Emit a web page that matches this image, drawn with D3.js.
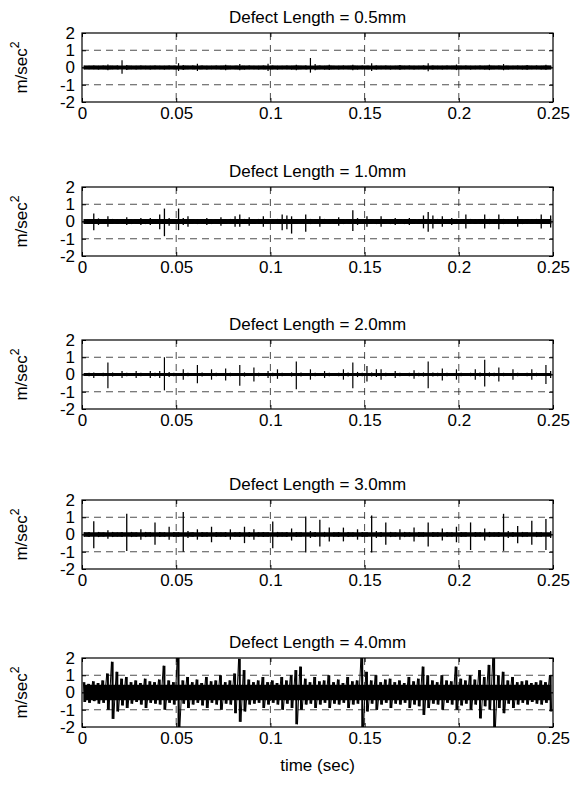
<!DOCTYPE html>
<html><head><meta charset="utf-8">
<script src="https://cdn.jsdelivr.net/npm/d3@7/dist/d3.min.js"></script>
<style>
body{margin:0;background:#fff}
svg{display:block}
text{font-family:Arial,"Liberation Sans",Helvetica,sans-serif;fill:#000}
</style>
</head><body>
<svg id="chart" width="588" height="798"></svg>
<script>
// ---------- data ----------
const titles = ["Defect Length = 0.5mm","Defect Length = 1.0mm","Defect Length = 2.0mm","Defect Length = 3.0mm","Defect Length = 4.0mm"];
const xTicks = [0,0.05,0.1,0.15,0.2,0.25];
const xTickLabels = ["0","0.05","0.1","0.15","0.2","0.25"];
const yTicks = [-2,-1,0,1,2];
const yTickLabels = ["-2","-1","0","1","2"];
const xLabel = "time (sec)";
const yLabel = "m/sec";
const binWidth = 0.0025; // seconds per envelope bin

// per-bin upper / lower envelope of each acceleration signal (m/sec^2)
const hi05 = [0.1,0.1,0.12,0.1,0.12,0.18,0.1,0.12,0.42,0.15, 0.1,0.1,0.12,0.1,0.1,0.12,0.1,0.1,0.12,0.1,
 0.25,0.15,0.1,0.12,0.22,0.12,0.1,0.1,0.12,0.1, 0.16,0.1,0.1,0.2,0.1,0.12,0.1,0.1,0.12,0.22,
 0.12,0.1,0.1,0.12,0.1,0.16,0.1,0.12,0.55,0.2, 0.12,0.1,0.16,0.1,0.1,0.12,0.1,0.16,0.1,0.12,
 0.1,0.25,0.12,0.1,0.12,0.1,0.1,0.14,0.1,0.12, 0.1,0.1,0.12,0.25,0.12,0.1,0.1,0.12,0.1,0.17,
 0.1,0.12,0.1,0.1,0.12,0.1,0.16,0.1,0.12,0.2, 0.1,0.1,0.12,0.1,0.14,0.1,0.12,0.1,0.16,0.1];
const lo05 = [-0.1,-0.1,-0.1,-0.12,-0.1,-0.16,-0.1,-0.1,-0.36,-0.14, -0.1,-0.12,-0.1,-0.1,-0.12,-0.1,-0.1,-0.12,-0.1,-0.1,
 -0.2,-0.14,-0.1,-0.1,-0.2,-0.1,-0.12,-0.1,-0.1,-0.12, -0.16,-0.1,-0.1,-0.16,-0.12,-0.1,-0.1,-0.12,-0.1,-0.2,
 -0.1,-0.12,-0.1,-0.1,-0.12,-0.16,-0.1,-0.1,-0.3,-0.16, -0.1,-0.12,-0.15,-0.1,-0.12,-0.1,-0.1,-0.16,-0.12,-0.1,
 -0.1,-0.2,-0.12,-0.1,-0.1,-0.12,-0.1,-0.13,-0.1,-0.1, -0.12,-0.1,-0.1,-0.22,-0.12,-0.1,-0.12,-0.1,-0.1,-0.15,
 -0.1,-0.1,-0.12,-0.1,-0.1,-0.12,-0.15,-0.1,-0.1,-0.16, -0.12,-0.1,-0.1,-0.12,-0.13,-0.1,-0.1,-0.12,-0.13,-0.1];

const hi10 = [0.13,0.15,0.46,0.18,0.13,0.3,0.15,0.13,0.15,0.25, 0.13,0.15,0.2,0.13,0.2,0.15,0.4,0.75,0.2,0.15,
 0.75,0.2,0.3,0.15,0.13,0.15,0.2,0.13,0.15,0.25, 0.13,0.15,0.3,0.4,0.15,0.25,0.13,0.15,0.3,0.15,
 0.13,0.15,0.4,0.35,0.3,0.15,0.13,0.4,0.15,0.13, 0.3,0.15,0.13,0.15,0.25,0.13,0.15,0.65,0.2,0.13,
 0.3,0.15,0.13,0.3,0.15,0.13,0.2,0.15,0.13,0.2, 0.15,0.13,0.35,0.55,0.35,0.15,0.3,0.13,0.2,0.15,
 0.13,0.4,0.15,0.13,0.15,0.4,0.15,0.13,0.4,0.15, 0.13,0.15,0.3,0.13,0.15,0.13,0.15,0.4,0.15,0.35];
const lo10 = [-0.13,-0.15,-0.5,-0.2,-0.13,-0.3,-0.13,-0.15,-0.13,-0.2, -0.15,-0.13,-0.2,-0.15,-0.2,-0.13,-0.45,-0.85,-0.25,-0.15,
 -0.5,-0.2,-0.3,-0.13,-0.15,-0.13,-0.2,-0.15,-0.13,-0.25, -0.15,-0.13,-0.3,-0.3,-0.13,-0.25,-0.15,-0.13,-0.3,-0.13,
 -0.15,-0.13,-0.5,-0.45,-0.7,-0.15,-0.13,-0.6,-0.15,-0.13, -0.3,-0.13,-0.15,-0.13,-0.25,-0.15,-0.13,-0.55,-0.2,-0.15,
 -0.3,-0.13,-0.15,-0.3,-0.13,-0.15,-0.2,-0.13,-0.15,-0.2, -0.13,-0.15,-0.4,-0.6,-0.4,-0.13,-0.3,-0.15,-0.2,-0.13,
 -0.15,-0.4,-0.13,-0.15,-0.13,-0.4,-0.15,-0.13,-0.45,-0.15, -0.13,-0.15,-0.3,-0.15,-0.13,-0.15,-0.13,-0.4,-0.15,-0.35];

const hi20 = [0.08,0.1,0.12,0.08,0.1,0.7,0.12,0.08,0.2,0.1, 0.08,0.2,0.1,0.08,0.2,0.1,0.2,1.0,0.15,0.1,
 0.08,0.3,0.1,0.08,0.55,0.12,0.08,0.3,0.1,0.08, 0.35,0.1,0.08,0.55,0.12,0.08,0.4,0.1,0.08,0.2,
 0.1,0.3,0.1,0.08,0.12,0.75,0.12,0.08,0.3,0.1, 0.08,0.2,0.1,0.08,0.1,0.3,0.12,0.7,0.15,0.1,
 0.5,0.12,0.3,0.3,0.1,0.08,0.2,0.1,0.08,0.1, 0.25,0.1,0.12,0.75,0.12,0.1,0.35,0.1,0.08,0.3,
 0.1,0.08,0.1,0.3,0.12,0.85,0.12,0.1,0.4,0.1, 0.08,0.3,0.1,0.08,0.1,0.3,0.1,0.08,0.55,0.2];
const lo20 = [-0.08,-0.1,-0.2,-0.08,-0.1,-0.8,-0.12,-0.08,-0.2,-0.1, -0.08,-0.2,-0.1,-0.08,-0.2,-0.1,-0.2,-0.92,-0.15,-0.1,
 -0.08,-0.3,-0.1,-0.08,-0.5,-0.12,-0.08,-0.3,-0.1,-0.08, -0.35,-0.1,-0.08,-0.65,-0.12,-0.08,-0.4,-0.1,-0.08,-0.2,
 -0.1,-0.25,-0.1,-0.08,-0.12,-0.85,-0.12,-0.08,-0.3,-0.1, -0.08,-0.2,-0.1,-0.08,-0.1,-0.3,-0.12,-0.8,-0.15,-0.1,
 -0.4,-0.12,-0.15,-0.3,-0.1,-0.08,-0.2,-0.1,-0.08,-0.1, -0.25,-0.1,-0.12,-0.8,-0.12,-0.1,-0.35,-0.1,-0.08,-0.3,
 -0.1,-0.08,-0.1,-0.3,-0.12,-0.7,-0.12,-0.1,-0.4,-0.1, -0.08,-0.3,-0.1,-0.08,-0.1,-0.3,-0.1,-0.08,-0.55,-0.2];

const hi30 = [0.12,0.15,0.77,0.15,0.12,0.25,0.15,0.12,0.15,1.2, 0.15,0.12,0.3,0.15,0.12,0.7,0.15,0.12,0.45,0.15,
 0.12,1.3,0.2,0.12,0.3,0.15,0.12,0.45,0.15,0.12, 0.15,0.3,0.12,0.15,0.45,0.15,0.3,0.12,0.15,0.12,
 0.75,0.15,0.12,0.15,0.35,0.15,0.12,1.05,0.2,0.15, 0.85,0.15,0.4,0.12,0.15,0.4,0.15,0.12,0.3,0.15,
 0.12,1.1,0.2,0.15,0.7,0.15,0.12,0.3,0.15,0.12, 0.4,0.15,0.12,0.7,0.15,0.12,0.35,0.15,0.12,0.45,
 0.15,0.12,0.7,0.15,0.12,0.35,0.15,0.12,0.15,1.2, 0.2,0.15,0.5,0.15,0.12,0.8,0.15,0.12,0.9,0.2];
const lo30 = [-0.12,-0.15,-0.8,-0.15,-0.12,-0.25,-0.15,-0.12,-0.15,-0.95, -0.15,-0.12,-0.3,-0.15,-0.12,-0.6,-0.15,-0.12,-0.3,-0.15,
 -0.12,-1.0,-0.2,-0.12,-0.3,-0.15,-0.12,-0.45,-0.15,-0.12, -0.15,-0.3,-0.12,-0.15,-0.5,-0.15,-0.3,-0.12,-0.15,-0.12,
 -0.8,-0.15,-0.12,-0.15,-0.35,-0.15,-0.12,-1.05,-0.2,-0.15, -0.7,-0.15,-0.4,-0.12,-0.15,-0.4,-0.15,-0.12,-0.3,-0.15,
 -0.12,-1.05,-0.2,-0.15,-0.6,-0.15,-0.12,-0.3,-0.15,-0.12, -0.4,-0.15,-0.12,-0.7,-0.15,-0.12,-0.35,-0.15,-0.12,-0.45,
 -0.15,-0.12,-0.9,-0.15,-0.12,-0.35,-0.15,-0.12,-0.15,-0.95, -0.2,-0.15,-0.5,-0.15,-0.12,-0.6,-0.15,-0.12,-0.9,-0.2];

const hi40 = [0.6,0.5,0.65,0.55,0.7,1.1,1.78,1.2,0.8,0.9, 0.6,0.7,0.55,0.8,0.65,0.6,0.75,1.55,0.7,0.6,
 2.2,0.7,0.9,0.6,0.75,0.55,0.9,0.65,0.7,1.0, 0.6,0.7,1.1,1.95,1.3,0.75,0.6,0.7,0.9,0.6,
 0.7,0.55,0.9,0.7,1.0,1.3,1.5,0.8,0.6,0.9, 0.65,0.7,1.0,0.6,0.75,0.55,0.9,0.65,0.7,2.2,
 1.2,0.7,1.0,0.6,0.75,0.8,0.6,0.7,0.55,0.9, 0.65,0.8,1.5,1.0,0.7,0.6,1.0,0.7,0.65,1.5,
 0.8,0.7,1.0,0.75,1.3,0.9,1.6,2.2,1.0,1.2, 0.7,0.9,0.6,0.65,0.7,0.55,0.6,0.7,0.6,1.0];
const lo40 = [-0.55,-0.6,-0.5,-0.65,-0.6,-1.0,-1.53,-1.1,-0.75,-0.9, -0.65,-0.55,-0.7,-0.9,-0.6,-0.65,-0.7,-1.0,-0.6,-0.7,
 -2.2,-0.65,-0.9,-0.7,-0.6,-0.75,-0.9,-0.6,-0.7,-1.0, -0.65,-0.7,-1.2,-1.7,-1.1,-0.7,-0.65,-0.6,-0.9,-0.7,
 -0.6,-0.7,-1.0,-0.65,-0.9,-1.84,-1.0,-0.7,-0.65,-0.9, -0.7,-0.6,-0.9,-0.65,-0.7,-0.6,-0.9,-0.7,-0.65,-2.2,
 -1.1,-0.65,-1.0,-0.7,-0.6,-0.9,-0.65,-0.7,-0.6,-0.9, -0.7,-0.8,-1.3,-0.9,-0.65,-0.7,-1.0,-0.6,-0.7,-1.0,
 -0.75,-0.65,-1.0,-0.7,-1.5,-0.8,-1.0,-2.2,-0.9,-1.2, -0.65,-0.9,-0.7,-0.6,-0.7,-0.55,-0.65,-0.7,-0.6,-1.1];

const seriesHi = [hi05, hi10, hi20, hi30, hi40];
const seriesLo = [lo05, lo10, lo20, lo30, lo40];

// ---------- layout / style ----------
const plotLeft = 82, plotRight = 553, plotH = 69;
const panelTops = [33, 187, 340, 500, 658];
const bandClip = [0.11, 0.14, 0.09, 0.13, 0.45];  // limit of the filled dense core (style)
const areaStroke = [1.4, 1.4, 1.2, 1.3, 1.0];
const segWidth = [1.2, 1.3, 1.2, 1.3, 2.0];
const zigWidth = [0, 0, 0, 0, 1.0];
const fs = 17;

const svg = d3.select("#chart");
const x = d3.scaleLinear().domain([0, 0.25]).range([plotLeft, plotRight]);

panelTops.forEach((top, p) => {
  const y = d3.scaleLinear().domain([-2, 2]).range([top + plotH, top]);
  const g = svg.append("g");
  const defs = svg.append("defs");
  defs.append("clipPath").attr("id", "clip" + p).append("rect")
    .attr("x", plotLeft).attr("y", top).attr("width", plotRight - plotLeft).attr("height", plotH);
  defs.append("clipPath").attr("id", "band" + p).append("rect")
    .attr("x", plotLeft).attr("y", y(bandClip[p])).attr("width", plotRight - plotLeft)
    .attr("height", y(-bandClip[p]) - y(bandClip[p]));

  // grid
  const grid = g.append("g").attr("stroke", "#222").attr("stroke-width", 0.8).attr("stroke-dasharray", "7,5");
  grid.selectAll(".gx").data(xTicks.slice(1, -1)).join("line")
    .attr("x1", d => x(d)).attr("x2", d => x(d)).attr("y1", top).attr("y2", top + plotH);
  grid.selectAll(".gy").data(yTicks.slice(1, -1)).join("line")
    .attr("x1", plotLeft).attr("x2", plotRight).attr("y1", d => y(d)).attr("y2", d => y(d));

  const hi = seriesHi[p], lo = seriesLo[p];
  const env = hi.map((v, i) => ({ t: (i + 0.5) * binWidth, hi: v, lo: lo[i] }));

  // filled dense core of the signal
  const area = d3.area().x(d => x(d.t)).y0(d => y(d.lo)).y1(d => y(d.hi));
  g.append("g").attr("clip-path", `url(#band${p})`)
    .append("path").datum(env).attr("d", area).attr("fill", "#000")
    .attr("stroke", "#000").attr("stroke-width", areaStroke[p]);

  // min-max trace per bin (vertical strokes of the sampled signal)
  const sig = g.append("g").attr("clip-path", `url(#clip${p})`);
  sig.selectAll("line").data(env).join("line")
    .attr("x1", d => x(d.t)).attr("x2", d => x(d.t))
    .attr("y1", d => y(d.hi)).attr("y2", d => y(d.lo))
    .attr("stroke", "#000").attr("stroke-width", segWidth[p]);

  // oscillating trace between peaks (for the dense 4.0mm record)
  if (zigWidth[p] > 0) {
    const pts = [];
    env.forEach(d => { pts.push([d.t - binWidth * 0.25, d.hi]); pts.push([d.t + binWidth * 0.25, d.lo]); });
    sig.append("path").datum(pts)
      .attr("d", d3.line().x(d => x(d[0])).y(d => y(d[1])))
      .attr("fill", "none").attr("stroke", "#000").attr("stroke-width", zigWidth[p]);
  }

  // axes (MATLAB-style inward ticks on all four sides)
  const tick = 4;
  const ax = g.append("g").attr("transform", `translate(0,${top + plotH})`)
    .call(d3.axisBottom(x).tickValues(xTicks).tickFormat((d, i) => xTickLabels[i]).tickSizeInner(-tick).tickSizeOuter(0).tickPadding(5));
  const axT = g.append("g").attr("transform", `translate(0,${top})`)
    .call(d3.axisTop(x).tickValues(xTicks).tickFormat("").tickSizeInner(-tick).tickSizeOuter(0));
  const ay = g.append("g").attr("transform", `translate(${plotLeft},0)`)
    .call(d3.axisLeft(y).tickValues(yTicks).tickFormat((d, i) => yTickLabels[i]).tickSizeInner(-tick).tickSizeOuter(0).tickPadding(7));
  const ayR = g.append("g").attr("transform", `translate(${plotRight},0)`)
    .call(d3.axisRight(y).tickValues(yTicks).tickFormat("").tickSizeInner(-tick).tickSizeOuter(0));
  [ax, axT, ay, ayR].forEach(a => {
    a.select(".domain").remove();
    a.selectAll("line").attr("stroke", "#000");
    a.selectAll("text").attr("font-size", fs).attr("font-family", "Arial, 'Liberation Sans', sans-serif").attr("fill", "#000");
  });

  // box
  g.append("rect").attr("x", plotLeft).attr("y", top).attr("width", plotRight - plotLeft).attr("height", plotH)
    .attr("fill", "none").attr("stroke", "#000").attr("stroke-width", 1.2);

  // title
  g.append("text").attr("x", (plotLeft + plotRight) / 2).attr("y", top - 10)
    .attr("text-anchor", "middle").attr("font-size", fs).text(titles[p]);

  // y label with superscript
  const yl = g.append("text")
    .attr("transform", `translate(27,${top + plotH / 2}) rotate(-90)`)
    .attr("text-anchor", "middle").attr("font-size", fs);
  yl.append("tspan").text(yLabel);
  yl.append("tspan").attr("dy", -8).attr("font-size", fs * 0.72).text("2");
});

svg.append("text").attr("x", (plotLeft + plotRight) / 2).attr("y", 771)
  .attr("text-anchor", "middle").attr("font-size", fs).text(xLabel);
</script>
</body></html>
